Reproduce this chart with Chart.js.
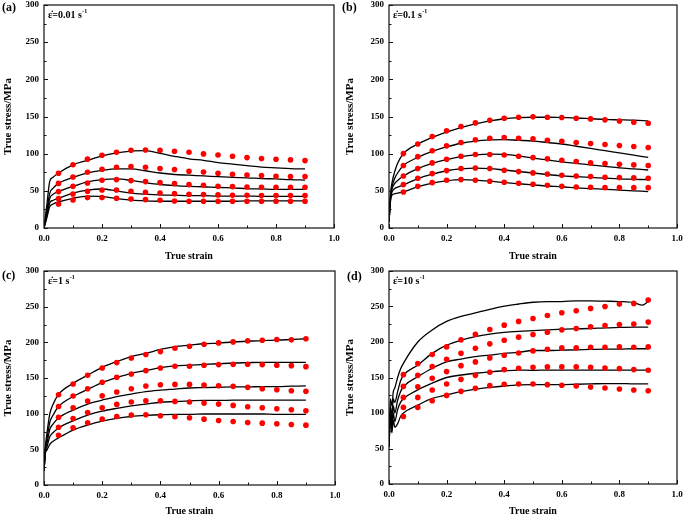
<!DOCTYPE html>
<html>
<head>
<meta charset="utf-8">
<script src="https://cdn.jsdelivr.net/npm/chart.js@4.4.1/dist/chart.umd.min.js"></script>
<style>
    html, body { margin: 0; padding: 0; background: #fff; }
    #wrap { position: relative; width: 685px; height: 517px; overflow: hidden; }
    canvas { position: absolute; }
</style>
</head>
<body>
<div id="wrap">
    <canvas id="pa" width="340" height="265" style="left:0;top:0"></canvas>
    <canvas id="pb" width="345" height="265" style="left:340px;top:0"></canvas>
    <canvas id="pc" width="340" height="255" style="left:0;top:262px"></canvas>
    <canvas id="pd" width="345" height="255" style="left:340px;top:262px"></canvas>
</div>
<script>
// tick labels
var xTickLabels = ['0.0', '0.2', '0.4', '0.6', '0.8', '1.0'];
var yTickLabels = ['0', '50', '100', '150', '200', '250', '300'];

// strain values of the predicted points and of the measured curves
var dotStrain = [0.05, 0.1, 0.15, 0.2, 0.25, 0.3, 0.35, 0.4, 0.45, 0.5, 0.55, 0.6, 0.65, 0.7, 0.75, 0.8, 0.85, 0.9];
var lineStrain = [0, 0.005, 0.01, 0.02, 0.03, 0.05, 0.1, 0.15, 0.2, 0.25, 0.3, 0.35, 0.4, 0.45, 0.5, 0.55, 0.6, 0.65, 0.7, 0.75, 0.8, 0.85, 0.9];
var lineStrainD = [0, 0.005, 0.01, 0.015, 0.02, 0.03, 0.04, 0.05, 0.1, 0.15, 0.2, 0.25, 0.3, 0.35, 0.4, 0.45, 0.5, 0.55, 0.6, 0.65, 0.7, 0.75, 0.8, 0.85, 0.88, 0.9];

var rates = ['0.01', '0.1', '1', '10'];
var letters = ['(a)', '(b)', '(c)', '(d)'];

// (a) 0.01 s-1
var aLines = [
    [0, 16, 32, 63, 68, 74, 85, 91, 97, 101, 103.5, 104, 100.5, 96.5, 93, 91, 88, 86, 84, 82, 81, 80, 79.5],
    [0, 12, 24, 47, 53, 60, 68, 74, 77.5, 79.5, 79.5, 77, 74, 72, 71, 70, 69, 68, 67.5, 66.5, 66, 65, 64.5],
    [0, 10, 20, 40, 45, 49, 56, 62, 65, 66, 64, 61, 58.5, 57, 56, 55.5, 54.5, 54, 53, 52.5, 52, 52, 52],
    [0, 8, 17, 34, 37, 40, 47, 51, 52.5, 50, 47, 45.5, 44.5, 44, 43.5, 43.5, 43, 43, 43, 42.5, 42.5, 42.5, 42.5],
    [0, 7, 14, 29, 32, 35, 40, 43, 42.5, 39.5, 37.5, 36.5, 36, 36, 36, 36, 36, 36, 36.5, 36.5, 36.5, 36.5, 36.5]
];
var aDots = [
    [73.6, 85, 92.6, 97.9, 102, 104.6, 105, 104.6, 103.3, 102, 99.7, 98.3, 96.5, 94.7, 93.4, 92.5, 91.6, 90.7],
    [60, 68.7, 75, 79, 81.7, 82.6, 81.7, 80, 78.6, 76.3, 75.4, 73.6, 72.3, 71.4, 70.5, 69.6, 69.2, 69.2],
    [49, 56, 60.6, 64.2, 65.1, 63.8, 62.4, 61, 59.7, 58.4, 57.5, 56.1, 55.7, 55.2, 54.8, 54.8, 54.8, 54.8],
    [39.5, 45.8, 49.4, 51.2, 51.2, 49.4, 48, 47, 46.2, 45.4, 44.9, 44.5, 44, 44, 43.6, 43.6, 43.6, 43.6],
    [32.3, 37.7, 40.9, 40.9, 40, 39, 38.2, 37.3, 36.4, 36, 36, 36, 36, 36, 36, 36, 36, 36]
];

// (b) 0.1 s-1
var bLines = [
    [8, 45, 60, 76, 87, 100, 113, 122, 129, 135, 140, 144, 147, 148.5, 149, 149, 148.5, 148, 147, 146, 145.5, 145, 144],
    [8, 42, 55, 67, 74, 84, 95, 103, 109, 114, 117, 118.5, 119, 118, 117, 115, 113, 110, 107, 104, 101, 98, 95],
    [8, 40, 52, 60, 64, 70, 80, 87, 92, 96, 98.5, 99.5, 99, 97, 94, 91.5, 89, 87, 85, 83, 81, 79.5, 78],
    [8, 38, 48, 53, 55, 58, 66.5, 72.5, 77, 79.5, 80.5, 80, 78, 76, 74, 72, 70, 69, 68, 67, 66, 65.5, 65],
    [8, 35, 44, 46, 47, 48.5, 55.5, 60.5, 63.5, 65, 64.5, 63, 61, 59.5, 58, 56.5, 55.5, 54, 53, 52, 51, 50, 49]
];
var bDots = [
    [100.1, 113, 123, 130.7, 136.5, 141.4, 145, 147.7, 149, 149.5, 149, 148.6, 147.7, 146.8, 145.5, 144, 142.3, 141],
    [84, 96, 104, 110.5, 115, 118.6, 120.8, 121.7, 120.8, 120, 118, 116.8, 115, 113.6, 112.3, 111, 109.6, 108.2],
    [70, 80, 87.6, 92.5, 96.5, 98.8, 98.8, 98.3, 96.5, 94.7, 93, 91.2, 89.4, 87.6, 86.7, 85.8, 84.9, 84],
    [58.4, 66.9, 73.2, 77.2, 80, 80.8, 80, 77.7, 75.9, 74.1, 72.7, 71, 70, 69.2, 68.3, 67.8, 67.4, 66.9],
    [48.5, 56, 61, 64.2, 65.1, 64.2, 62.9, 61.5, 60.2, 58.8, 57.5, 56, 55.2, 54.8, 54.3, 54.3, 54.3, 54.3]
];

// (c) 1 s-1
var cLines = [
    [20, 55, 72, 100, 112, 127, 142.5, 154, 165, 173, 180, 184.5, 190, 194, 196, 198, 199, 200.5, 201.5, 202.5, 203, 204, 205],
    [20, 52, 64, 88, 97, 110, 124, 134, 143.5, 150.5, 156.5, 160.5, 164.5, 167, 168, 169, 170, 171, 171.5, 172, 172, 172, 172],
    [20, 50, 58, 78, 85, 94, 105, 113.5, 119, 124, 127.5, 131, 133, 134.5, 136, 136.5, 137, 137.5, 137.5, 138, 138, 138.5, 139],
    [20, 47, 53, 68, 73, 80, 90, 98, 103.5, 107.5, 111, 113.5, 116, 117, 118, 118.5, 118.5, 119, 119, 119, 119, 119, 119],
    [20, 45, 49, 57, 61, 66, 77, 84, 89.5, 93.5, 96, 97.5, 98.5, 99, 99, 99.5, 99.5, 99.5, 99.5, 99.5, 99, 99, 99]
];
var cDots = [
    [126.6, 141.6, 153.8, 164, 171.6, 178, 183, 187, 191.7, 194.5, 197.3, 199.2, 200.6, 202, 203, 204, 203.5, 205],
    [110, 124.7, 135, 144, 151, 155.6, 160.3, 164, 166.4, 166.4, 167.8, 168.8, 169.2, 169.2, 168.8, 167.8, 167.3, 165.9],
    [95, 108.3, 117.6, 125, 130.3, 135, 138.8, 140.6, 141, 141, 140, 139.2, 138.3, 136.9, 135, 133.6, 132.2, 131.3],
    [81, 93.3, 101.7, 108.3, 113, 116.3, 118, 118, 117.2, 116.3, 114.8, 113.4, 111.6, 109.7, 108.3, 106.9, 105.5, 104],
    [69.8, 80.2, 87.2, 92.3, 96, 98, 98.4, 97, 95.6, 94.2, 92.3, 90.5, 89, 87.7, 86.7, 85.8, 84.8, 83.9]
];

// (d) 10 s-1
var dLines = [
    [52, 120, 110, 130, 135, 150, 162, 170, 200, 217, 229, 236, 241, 246, 250.5, 253.5, 256, 257, 257, 258, 258, 257.5, 257, 255.5, 252, 257],
    [52, 110, 95, 120, 115, 130, 145, 153, 167.5, 184, 195.5, 202.5, 207.5, 211, 213.5, 215, 216, 217, 218, 218.5, 219, 220, 220.5, 221, 221, 221],
    [52, 105, 85, 110, 100, 118, 130, 137, 151, 163, 172, 176, 179.5, 181.5, 184, 185.5, 188, 188, 188.5, 189, 189.5, 190, 190, 190.5, 190.5, 190.5],
    [52, 100, 78, 100, 88, 105, 115, 120, 132.5, 142, 150, 153.5, 156, 158, 159.5, 160.5, 160, 160.5, 160.5, 160.5, 160.5, 160.5, 160.5, 160.5, 160.5, 160.5],
    [52, 95, 72, 90, 80, 85, 95, 100, 111, 120.5, 125.5, 130, 133.5, 136, 138, 139.5, 140, 140, 140, 140.5, 141, 141.5, 141.5, 141, 141, 141]
];
var dDots = [
    [154, 169.6, 182.3, 193.1, 203, 211, 217.6, 223.7, 229, 233.2, 237.4, 241.2, 244, 247.3, 250.1, 253.4, 254.4, 259],
    [137.5, 153, 165.3, 175.7, 184.2, 191.2, 197.4, 202.5, 206.8, 210.6, 213.8, 217.1, 219, 221.4, 223.3, 224.7, 225.2, 228],
    [122, 137, 148.8, 158.3, 166.7, 172, 177.6, 181.3, 184.6, 187.5, 189.8, 191.7, 191.7, 192.6, 192.6, 193.1, 192.6, 193.1],
    [107.9, 122, 132.4, 140.8, 147.4, 153, 157.3, 161.1, 163, 164.4, 164.9, 164.9, 164.9, 164.4, 163.4, 162.5, 161.1, 160.2],
    [95.1, 107.9, 117.3, 124.8, 130.5, 134.7, 138.5, 140.4, 140.8, 140.8, 139.9, 139, 138, 136.6, 135.2, 133.8, 132.4, 131.4]
];

var serif = "'Liberation Serif', 'Times New Roman', serif";

// box round the plot, inward ticks, panel letter and strain rate text
var framePlugin = {
    id: 'frame',
    afterDatasetsDraw: function (chart) {
        var c = chart.ctx, a = chart.chartArea;
        var xs = chart.scales.x, ys = chart.scales.y;
        var p = chart.options.plugins.frame;
        c.save();
        c.strokeStyle = '#111';
        c.lineWidth = 1.2;
        c.strokeRect(a.left, a.top, a.right - a.left, a.bottom - a.top);

        c.lineWidth = 1;
        c.beginPath();
        xs.ticks.forEach(function (t, i) {
            var px = Math.round(xs.getPixelForValue(t.value)) + 0.5;
            c.moveTo(px, a.bottom); c.lineTo(px, a.bottom - 4);
            if (i < xs.ticks.length - 1) {
                var mx = Math.round(xs.getPixelForValue((t.value + xs.ticks[i + 1].value) / 2)) + 0.5;
                c.moveTo(mx, a.bottom); c.lineTo(mx, a.bottom - 2.5);
            }
        });
        ys.ticks.forEach(function (t, i) {
            var py = Math.round(ys.getPixelForValue(t.value)) + 0.5;
            c.moveTo(a.left, py); c.lineTo(a.left + 4, py);
            if (i < ys.ticks.length - 1) {
                var my = Math.round(ys.getPixelForValue((t.value + ys.ticks[i + 1].value) / 2)) + 0.5;
                c.moveTo(a.left, my); c.lineTo(a.left + 2.5, my);
            }
        });
        c.stroke();

        c.fillStyle = '#000';
        c.textBaseline = 'alphabetic';
        c.textAlign = 'left';
        c.font = 'bold 12px ' + serif;
        c.fillText(p.letter, a.left - p.letterDx, a.top + p.letterDy);

        var txt = '\u03b5\u0307=' + p.rate + ' s';
        var x0 = a.left + 4, y0 = a.top + 13;
        c.font = 'bold 10px ' + serif;
        c.fillText(txt, x0, y0);
        var w = c.measureText(txt).width;
        c.font = 'bold 6px ' + serif;
        c.fillText('-1', x0 + w + 0.5, y0 - 5);
        c.restore();
    }
};

function makePanel(id, lineX, lines, dots, o) {
    var datasets = [];
    dots.forEach(function (d) {
        datasets.push({
            data: dotStrain.map(function (x, i) { return { x: x, y: d[i] }; }),
            showLine: false,
            pointRadius: 2.8,
            pointBackgroundColor: '#ff0000',
            pointBorderWidth: 0,
            order: 1
        });
    });
    lines.forEach(function (l) {
        datasets.push({
            data: lineX.map(function (x, i) { return { x: x, y: l[i] }; }),
            borderColor: '#000',
            borderWidth: 1.3,
            pointRadius: 0,
            cubicInterpolationMode: 'monotone',
            order: 2
        });
    });

    return new Chart(document.getElementById(id), {
        type: 'line',
        data: { datasets: datasets },
        plugins: [framePlugin],
        options: {
            responsive: false,
            animation: false,
            events: [],
            layout: { padding: { top: o.top, right: o.right, left: 0, bottom: 0 } },
            plugins: {
                legend: { display: false },
                tooltip: { enabled: false },
                frame: { letter: o.letter, rate: o.rate, letterDx: o.letterDx, letterDy: o.letterDy }
            },
            scales: {
                x: {
                    type: 'linear',
                    min: 0,
                    max: 1,
                    grid: { display: false, drawTicks: false },
                    border: { display: false },
                    ticks: {
                        stepSize: 0.2,
                        padding: 5,
                        maxRotation: 0,
                        autoSkip: false,
                        color: '#000',
                        font: { family: serif, size: 9, weight: 'bold' },
                        callback: function (v, i) { return xTickLabels[i]; }
                    },
                    title: {
                        display: true,
                        text: 'True strain',
                        color: '#000',
                        font: { family: serif, size: 10, weight: 'bold', lineHeight: 1.2 },
                        padding: { top: 0, bottom: o.xTitlePad }
                    },
                    afterFit: function (s) { s.height = o.xh; s.paddingLeft = 0; s.paddingRight = 0; }
                },
                y: {
                    min: 0,
                    max: 300,
                    grid: { display: false, drawTicks: false },
                    border: { display: false },
                    ticks: {
                        stepSize: 50,
                        padding: 5,
                        color: '#000',
                        font: { family: serif, size: 9, weight: 'bold' },
                        callback: function (v, i) { return yTickLabels[i]; }
                    },
                    title: {
                        display: true,
                        text: 'True stress/MPa',
                        color: '#000',
                        font: { family: serif, size: 11, weight: 'bold', lineHeight: 1.2 },
                        padding: { top: o.yTitlePad, bottom: 0 }
                    },
                    afterFit: function (s) { s.width = o.yw; s.paddingTop = 0; s.paddingBottom = 0; }
                }
            }
        }
    });
}

makePanel('pa', lineStrain, aLines, aDots, { top: 5, right: 6, yw: 44, xh: 37, xTitlePad: 3, yTitlePad: 1.4, letter: letters[0], rate: rates[0], letterDx: 42, letterDy: 5.5 });
makePanel('pb', lineStrain, bLines, bDots, { top: 5, right: 8, yw: 49, xh: 37, xTitlePad: 3, yTitlePad: 3.4, letter: letters[1], rate: rates[1], letterDx: 47, letterDy: 5.5 });
makePanel('pc', lineStrain, cLines, cDots, { top: 9, right: 5, yw: 44, xh: 32, xTitlePad: 0, yTitlePad: 1.7, letter: letters[2], rate: rates[2], letterDx: 42, letterDy: 7.5 });
makePanel('pd', lineStrainD, dLines, dDots, { top: 9, right: 8, yw: 49, xh: 33, xTitlePad: 0, yTitlePad: 3.4, letter: letters[3], rate: rates[3], letterDx: 42, letterDy: 8.5 });
</script>
</body>
</html>
